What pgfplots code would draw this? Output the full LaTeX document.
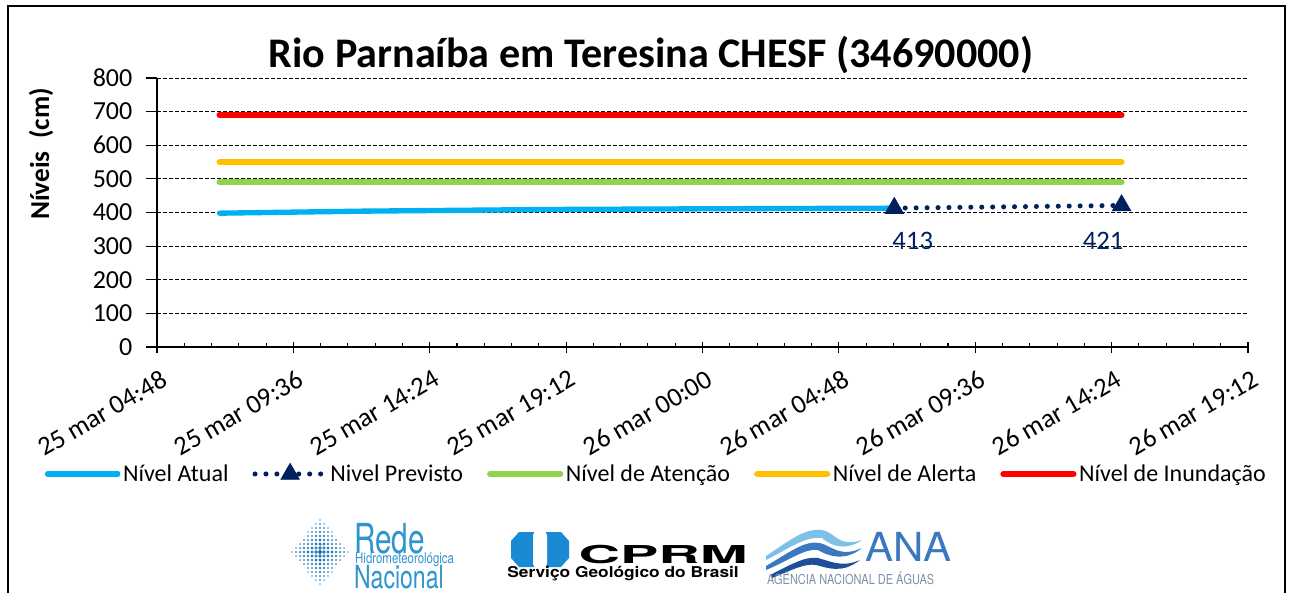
\documentclass[border=0pt]{standalone}
\usepackage{fontspec}
\setmainfont{Carlito}
\newfontfamily\heros{TeX Gyre Heros}
\usepackage{pgfplots}
\pgfplotsset{compat=1.18}
\definecolor{atual}{HTML}{00B0F0}
\definecolor{prev}{HTML}{002060}
\definecolor{atencao}{HTML}{92D050}
\definecolor{alerta}{HTML}{FFC000}
\definecolor{inund}{HTML}{FF0000}
\definecolor{redeblue}{HTML}{2E95CF}
\definecolor{rededark}{HTML}{1A6FAF}
\definecolor{cprmblue}{HTML}{1A8AD4}
\definecolor{anablue}{HTML}{3A78C0}
\definecolor{anadark}{HTML}{1F4E9A}
\definecolor{analight}{HTML}{7DC0E8}
\definecolor{anagray}{HTML}{7F8FA6}

\begin{document}
\begin{tikzpicture}
\begin{scope}[x=0.75pt,y=-0.75pt]
\useasboundingbox (0,0) rectangle (1294,593);
\draw[line width=1.5pt] (8,593) -- (8,6) -- (1285,6) -- (1285,593);
\node[font=\fontsize{31.6}{36}\selectfont\bfseries] at (651,55) {Rio Parnaíba em Teresina CHESF (34690000)};
\node[rotate=90,font=\fontsize{20.5}{24}\selectfont\bfseries] at (41,154) {Níveis\ \ (cm)};
\end{scope}

\begin{axis}[
  at={(117.75pt,-260.25pt)}, anchor=south west,
  scale only axis, width=818.25pt, height=201.75pt,
  xmin=4.8, xmax=43.2, ymin=0, ymax=800,
  axis lines=left, axis line style={-, line width=1pt, black},
  xtick={4.8,9.6,14.4,19.2,24,28.8,33.6,38.4,43.2},
  xticklabels={25 mar 04:48,25 mar 09:36,25 mar 14:24,25 mar 19:12,26 mar 00:00,26 mar 04:48,26 mar 09:36,26 mar 14:24,26 mar 19:12},
  minor x tick num=4,
  ytick={0,100,...,800},
  ymajorgrids,
  major grid style={black, line width=0.6pt, dash pattern=on 3pt off 1.5pt},
  tick style={black, line width=0.8pt},
  tick align=outside,
  major tick length=8pt,
  minor tick length=3pt,
  major x tick style={yshift=3.5pt},
  minor x tick style={yshift=3pt},
  /pgf/number format/assume math mode=true,
  yticklabel style={font=\fontsize{19.5}{24}\selectfont, xshift=-7pt},
  xticklabel style={rotate=30, anchor=north east, yshift=-5pt, xshift=1pt, font=\fontsize{20}{24}\selectfont},
  legend columns=5,
  legend style={at={(0.458,-0.472)}, anchor=center, draw=none, fill=none,
    font=\fontsize{18}{21}\selectfont,
    /tikz/every even column/.append style={column sep=16pt}},
  legend image code/.code={\draw[mark repeat=2,mark phase=2] plot coordinates {(0cm,0cm)(0.925cm,0cm)(1.85cm,0cm)};},
  clip=false,
]
\addplot[atual, line width=4pt, line cap=round] coordinates {(7,398)(12,404)(18.6,409)(24,411)(30.75,413)};
\addlegendentry{Nível Atual}
\addplot[prev, line width=3.8pt, line cap=round, dash pattern=on 0pt off 8.2pt, mark=triangle*, mark size=8pt, mark options={solid, fill=prev, line width=0.5pt}] coordinates {(30.75,413)(38.75,421)};
\addlegendentry{Nivel Previsto}
\addplot[atencao, line width=4.5pt, line cap=round] coordinates {(7,490)(38.75,490)};
\addlegendentry{Nível de Atenção}
\addplot[alerta, line width=4.5pt, line cap=round] coordinates {(7,550)(38.75,550)};
\addlegendentry{Nível de Alerta}
\addplot[inund, line width=4.5pt, line cap=round] coordinates {(7,690)(38.75,690)};
\addlegendentry{Nível de Inundação}
\node[prev, font=\fontsize{20}{24}\selectfont] at (axis cs:31.4,315) {413};
\node[prev, font=\fontsize{20}{24}\selectfont] at (axis cs:38.1,315) {421};
\end{axis}

\begin{scope}[x=0.75pt,y=-0.75pt]
% Rede Hidrometeorologica Nacional logo
\foreach \i in {-7,...,7}{\foreach \j in {-8,...,8}{
  \pgfmathsetmacro\d{abs(\i)/7.5+abs(\j)/8.5}
  \pgfmathsetmacro\r{2.0*(1-0.55*\d)}
  \pgfmathsetmacro\c{100-60*\d}
  \ifdim\d pt<1pt \fill[rededark!\c!analight] (320+\i*4,552+\j*4) circle (\r);\fi
}}
\node[anchor=west, xscale=0.72, text=redeblue, font=\heros\fontsize{31}{31}\selectfont, inner sep=0pt] at (354,539) {Rede};
\node[anchor=west, xscale=0.78, text=redeblue, font=\heros\fontsize{11}{11}\selectfont, inner sep=0pt] at (355,560) {Hidrometeorológica};
\node[anchor=west, xscale=0.72, text=redeblue, font=\heros\fontsize{24}{24}\selectfont, inner sep=0pt] at (354,577) {Nacional};
% CPRM logo
\fill[cprmblue] (511,541) -- (519,532) -- (561,532) -- (569,541) -- (569,558) -- (561,567) -- (519,567) -- (511,558) -- cycle;
\fill[white, rounded corners=4pt] (533,530) rectangle (547,569);
\node[anchor=west, xscale=2.33, font=\heros\bfseries\fontsize{18.5}{18.5}\selectfont, inner sep=0pt] at (578,554) {CPRM};
\node[anchor=west, xscale=1.16, font=\heros\bfseries\fontsize{11.2}{11.2}\selectfont, inner sep=0pt] at (507,574) {Serviço Geológico do Brasil};
% ANA logo
\fill[analight] (766,556) .. controls (790,540) and (805,528) .. (822,530) .. controls (835,532) and (838,548) .. (862,540) .. controls (845,552) and (830,545) .. (822,538) .. controls (805,536) and (790,548) .. (766,560) -- cycle;
\fill[anablue] (766,566) .. controls (790,552) and (805,540) .. (820,543) .. controls (832,546) and (840,558) .. (862,548) .. controls (845,562) and (828,556) .. (818,550) .. controls (805,548) and (790,560) .. (766,570) -- cycle;
\fill[anadark] (770,575) .. controls (790,565) and (805,556) .. (818,558) .. controls (830,561) and (842,568) .. (860,560) .. controls (842,574) and (828,568) .. (816,565) .. controls (805,563) and (792,570) .. (772,578) -- cycle;
\node[anchor=west, xscale=1.05, text=anablue, font=\heros\fontsize{30}{30}\selectfont, inner sep=0pt] at (865,547) {ANA};
\node[anchor=west, xscale=0.8, text=anagray, font=\heros\fontsize{10.3}{10.3}\selectfont, inner sep=0pt] at (767,578) {AGÊNCIA NACIONAL DE ÁGUAS};
\end{scope}
\end{tikzpicture}
\end{document}
